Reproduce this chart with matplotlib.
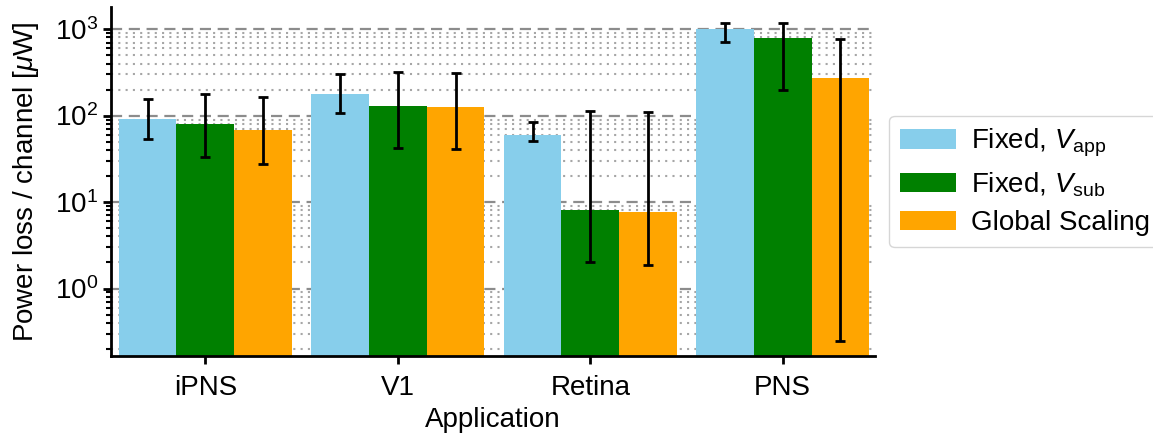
import numpy as np
import matplotlib
matplotlib.use("Agg")
import matplotlib.pyplot as plt
from matplotlib.ticker import LogLocator

plt.rcParams['font.family'] = ['Liberation Sans', 'DejaVu Sans']
plt.rcParams['mathtext.fontset'] = 'custom'
plt.rcParams['mathtext.rm'] = 'Liberation Sans'
plt.rcParams['mathtext.it'] = 'Liberation Sans:italic'

categories = ["iPNS", "V1", "Retina", "PNS"]
series_names = ["Fixed, $V_\\mathrm{app}$", "Fixed, $V_\\mathrm{sub}$", "Global Scaling"]
colors = ["skyblue", "green", "orange"]

fixed_app = [92, 180, 60, 1010]
fixed_app_lo = [53, 108, 51.5, 710]
fixed_app_hi = [157, 299, 84, 1167]

fixed_sub = [79, 128, 8.0, 782]
fixed_sub_lo = [33.3, 42.4, 2.04, 200]
fixed_sub_hi = [179, 321, 112, 1167]

global_sc = [69, 126, 7.6, 269]
global_sc_lo = [27.9, 40.8, 1.88, 0.248]
global_sc_hi = [163, 313, 109, 768]

values = [fixed_app, fixed_sub, global_sc]
lows = [fixed_app_lo, fixed_sub_lo, global_sc_lo]
highs = [fixed_app_hi, fixed_sub_hi, global_sc_hi]

FS = 20

fig = plt.figure(figsize=(11.53, 4.4), dpi=100)
ax = fig.add_axes([0.0963, 0.191, 0.759 - 0.0963, 0.984 - 0.191])

x = np.arange(len(categories))
width = 0.3
for i, (vals, lo, hi, name, c) in enumerate(zip(values, lows, highs, series_names, colors)):
    vals = np.array(vals)
    err = np.vstack([vals - np.array(lo), np.array(hi) - vals])
    ax.bar(x + (i - 1) * width, vals, width, color=c, label=name, zorder=2,
           yerr=err, capsize=3.6,
           error_kw=dict(ecolor='black', elinewidth=2, capthick=2, zorder=3))

ax.set_yscale('log')
ax.set_ylim(0.166, 1800)
ax.set_xlim(-0.49, 3.48)
ax.set_xticks(x)
ax.set_xticklabels(categories)
ax.yaxis.set_minor_locator(LogLocator(base=10, subs=np.arange(2, 10)))
ax.grid(True, which='major', axis='y', linestyle=(0, (5, 3)), color='grey', alpha=0.9, linewidth=1.6, zorder=0)
ax.grid(True, which='minor', axis='y', linestyle=(0, (1, 2.5)), color='grey', alpha=0.7, linewidth=1.5, zorder=0)
ax.set_axisbelow(True)

for s in ['top', 'right']:
    ax.spines[s].set_visible(False)
for s in ['left', 'bottom']:
    ax.spines[s].set_linewidth(2)

ax.tick_params(axis='both', which='major', labelsize=FS, width=2, length=6)
ax.tick_params(axis='x', which='major', pad=8)
ax.tick_params(axis='y', which='minor', width=1.5, length=3.5)
ax.set_xlabel("Application", fontsize=FS, labelpad=4)
ax.set_ylabel("Power loss / channel [$\\mu$W]", fontsize=FS, labelpad=10)

ax.legend(loc='center left', bbox_to_anchor=(1.0, 0.5), fontsize=FS, frameon=True,
          handletextpad=0.55, labelspacing=0.4)

fig.savefig("out.png", dpi=100)
